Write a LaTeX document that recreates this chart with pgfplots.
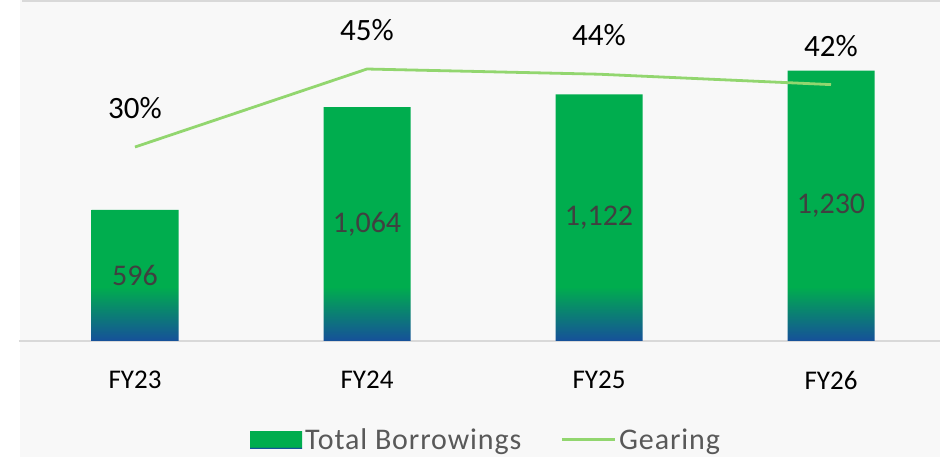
\documentclass[border=0pt]{standalone}
\usepackage{pgfplots}
\pgfplotsset{compat=1.18}
\usepackage{fontspec}
\setmainfont{Carlito}
\newfontfamily\legfont[LetterSpace=3]{Carlito}
\definecolor{bargreen}{HTML}{00AD4E}
\definecolor{barblue}{HTML}{16509A}
\definecolor{gearline}{HTML}{92D66F}
\definecolor{bg}{HTML}{F8F8F8}
\definecolor{axisgray}{HTML}{D9D9D9}
\definecolor{lbl}{HTML}{404040}
\definecolor{legtext}{HTML}{595959}
\pgfdeclareverticalshading{barshade}{100bp}{color(0bp)=(barblue); color(25bp)=(barblue); color(35bp)=(bargreen); color(100bp)=(bargreen)}
\pgfdeclareverticalshading{legshade}{100bp}{color(0bp)=(barblue); color(26bp)=(barblue); color(30bp)=(bargreen); color(100bp)=(bargreen)}
\pgfplotstableread{
x y
0 596
1 1064
2 1122
3 1230
}\borrow
\pgfplotstableread{
x y
0 30
1 45
2 44
3 42
}\gearing
\begin{document}
\begin{tikzpicture}
\fill[white] (0,0) rectangle (940pt,457pt);
\fill[bg] (20pt,0) rectangle (940pt,457pt);
\fill[axisgray] (22pt,455pt) rectangle (940pt,457pt);
\useasboundingbox (0,0) rectangle (940pt,457pt);
\begin{axis}[
  at={(19pt,116pt)}, anchor=south west, scale only axis,
  width=928pt, height=341pt,
  xmin=-0.5, xmax=3.5, ymin=0, ymax=1551,
  hide y axis, axis x line=bottom,
  x axis line style={-, draw=axisgray, line width=1.5pt},
  xtick={0,1,2,3}, xticklabels={FY23,FY24,FY25,FY26},
  major tick length=0pt,
  xticklabel style={font=\fontsize{27}{32}\selectfont, anchor=center, yshift=-39pt, text=black},
  clip=false,
  /pgf/number format/assume math mode=true,
]
\addplot[ybar, bar width=87pt, draw=none, shade, shading=barshade,
  visualization depends on={y \as \rawy},
  nodes near coords={\pgfmathprintnumber[fixed,precision=0,1000 sep={,}]{\pgfplotspointmeta}},
  nodes near coords style={font=\fontsize{30}{36}\selectfont, text=lbl, anchor=center,
     shift={(axis direction cs:0,-\rawy/2)}}
] table[x=x,y=y] {\borrow};
\end{axis}
\begin{axis}[
  at={(19pt,116pt)}, anchor=south west, scale only axis,
  width=928pt, height=341pt,
  xmin=-0.5, xmax=3.5, ymin=-7.3, ymax=58.27,
  axis lines=none, clip=false,
  /pgf/number format/assume math mode=true,
  legend columns=2,
  legend style={at={(0.5038,-0.290)}, anchor=center, draw=none, fill=none,
     font=\legfont\fontsize{30}{36}\selectfont, text=legtext, inner sep=0pt,
     nodes={inner sep=3pt},
     /tikz/every even column/.append style={column sep=36pt}},
]
\addlegendimage{legend image code/.code={\path[draw=none, shade, shading=legshade] (0pt,-8.5pt) rectangle (52pt,8.5pt);}}
\addlegendentry{Total Borrowings}
\addplot[gearline, line width=2.8pt, mark=none,
  nodes near coords={\pgfmathprintnumber[fixed,precision=0]{\pgfplotspointmeta}\%},
  nodes near coords style={font=\fontsize{31}{37}\selectfont, text=black, anchor=center, yshift=39pt},
  legend image code/.code={\draw[gearline, line width=2.8pt] (0pt,0pt) -- (53pt,0pt);}
] table[x=x,y=y] {\gearing};
\addlegendentry{Gearing}
\end{axis}
\end{tikzpicture}
\end{document}
